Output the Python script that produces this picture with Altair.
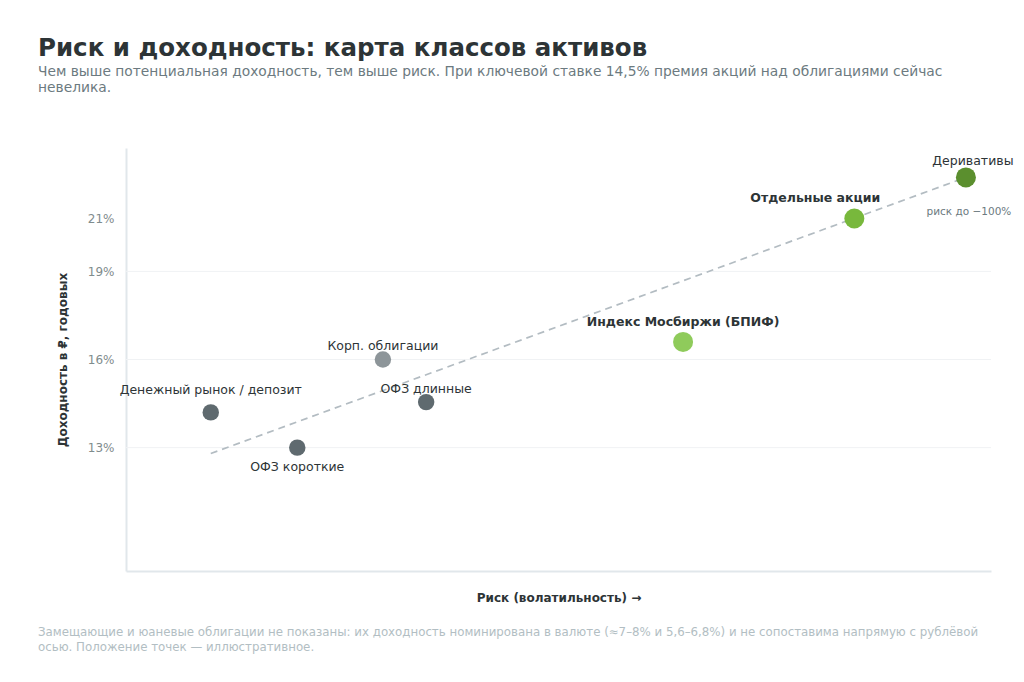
import altair as alt
import pandas as pd

# Asset classes: risk (arbitrary volatility scale) vs expected rouble yield, % p.a.
assets = [
    "Денежный рынок / депозит",
    "ОФЗ короткие",
    "Корп. облигации",
    "ОФЗ длинные",
    "Индекс Мосбиржи (БПИФ)",
    "Отдельные акции",
    "Деривативы",
]
risk = [0.98, 1.98, 2.97, 3.47, 6.44, 8.42, 9.71]
yield_pct = [14.2, 13.0, 16.0, 14.55, 16.6, 20.8, 22.2]
kind = ["долг", "долг", "долг", "долг", "акции", "акции", "акции"]

# Risk/return trend line
trend_risk = [0.98, 9.71]
trend_yield = [12.8, 22.2]

# Y-axis ticks and grid lines
y_ticks = [13, 16, 19, 20.8]
grid_vals = [13, 16, 19]

point_colors = ["#5f6a6f", "#5f6a6f", "#8d9599", "#5f6a6f", "#8fcb5b", "#78b83c", "#5b8f2e"]

FONT = "DejaVu Sans"
DARK = "#2d3436"

df = pd.DataFrame({"asset": assets, "risk": risk, "yield": yield_pct, "kind": kind})
trend = pd.DataFrame({"risk": trend_risk, "yield": trend_yield})
grid = pd.DataFrame({"yield": grid_vals})

x_scale = alt.Scale(domain=[0, 10], nice=False, zero=False)
y_scale = alt.Scale(domain=[8.8, 23.2], nice=False, zero=False)

x_enc = alt.X(
    "risk:Q",
    scale=x_scale,
    axis=alt.Axis(
        title="Риск (волатильность) →",
        labels=False,
        ticks=False,
        grid=False,
        domainColor="#e1e7eb",
        domainWidth=2,
        titleFont=FONT,
        titleFontSize=12,
        titleFontWeight="bold",
        titleColor=DARK,
        titlePadding=21,
    ),
)
y_enc = alt.Y(
    "yield:Q",
    scale=y_scale,
    axis=alt.Axis(
        title="Доходность в ₽, годовых",
        values=y_ticks,
        labelExpr="round(datum.value) + '%'",
        ticks=False,
        grid=False,
        domainColor="#e1e7eb",
        domainWidth=2,
        labelFont=FONT,
        labelFontSize=12,
        labelColor="#7f8c8d",
        labelPadding=12,
        titleFont=FONT,
        titleFontSize=12,
        titleFontWeight="bold",
        titleColor=DARK,
        titlePadding=18,
    ),
)

gridlines = alt.Chart(grid).mark_rule(color="#f0f2f4", strokeWidth=1).encode(
    y=alt.Y("yield:Q", scale=y_scale)
)

trend_line = alt.Chart(trend).mark_line(
    color="#b3bcc2", strokeDash=[7, 5], strokeWidth=1.7
).encode(x=x_enc, y=y_enc)

points = alt.Chart(df).mark_circle(opacity=1).encode(
    x=alt.X("risk:Q", scale=x_scale),
    y=alt.Y("yield:Q", scale=y_scale),
    color=alt.Color("asset:N", scale=alt.Scale(domain=assets, range=point_colors), legend=None),
    size=alt.Size("kind:N", scale=alt.Scale(domain=["долг", "акции"], range=[270, 400]), legend=None),
)


def label(name, dx, dy, bold=False, align="center"):
    return alt.Chart(df).transform_filter(alt.datum.asset == name).mark_text(
        font=FONT,
        fontSize=12.5,
        fontWeight="bold" if bold else "normal",
        color=DARK,
        dx=dx,
        dy=dy,
        align=align,
        baseline="middle",
    ).encode(
        x=alt.X("risk:Q", scale=x_scale),
        y=alt.Y("yield:Q", scale=y_scale),
        text="asset:N",
    )


labels = [
    label("Денежный рынок / депозит", 0, -22),
    label("ОФЗ короткие", 0, 19),
    label("Корп. облигации", 0, -14),
    label("ОФЗ длинные", 0, -13),
    label("Индекс Мосбиржи (БПИФ)", 0, -20, bold=True),
    label("Отдельные акции", -39, -21, bold=True),
    label("Деривативы", 7, -16),
]

risk_note = alt.Chart(df).transform_filter(alt.datum.asset == "Деривативы").mark_text(
    text="риск до −100%", font=FONT, fontSize=10.5, color="#6c7a80", dx=3, dy=35,
    align="center", baseline="middle",
).encode(x=alt.X("risk:Q", scale=x_scale), y=alt.Y("yield:Q", scale=y_scale))

anchor = pd.DataFrame({"k": [0]})

title = alt.Chart(anchor).mark_text(
    text="Риск и доходность: карта классов активов",
    font=FONT, fontSize=24.5, fontWeight="bold", color=DARK, align="left", baseline="alphabetic",
).encode(x=alt.value(-88), y=alt.value(-92))

subtitle = alt.Chart(anchor).mark_text(
    text=[
        "Чем выше потенциальная доходность, тем выше риск. При ключевой ставке 14,5% премия акций над облигациями сейчас",
        "невелика.",
    ],
    font=FONT, fontSize=13.8, color="#6c7a80", align="left", baseline="alphabetic", lineHeight=16,
).encode(x=alt.value(-88), y=alt.value(-72))

footer = alt.Chart(anchor).mark_text(
    text=[
        "Замещающие и юаневые облигации не показаны: их доходность номинирована в валюте (≈7–8% и 5,6–6,8%) и не сопоставима напрямую с рублёвой",
        "осью. Положение точек — иллюстративное.",
    ],
    font=FONT, fontSize=11.8, color="#b2bec3", align="left", baseline="alphabetic", lineHeight=15,
).encode(x=alt.value(-88), y=alt.value(488))

chart = alt.layer(
    gridlines, trend_line, points, *labels, risk_note, title, subtitle, footer
).properties(
    width=865,
    height=423,
    padding={"left": 126, "top": 148, "right": 33, "bottom": 111},
    autosize=alt.AutoSizeParams(type="none"),
    background="white",
).configure_view(stroke=None)

chart.save("out.html", embed_options={"renderer": "svg", "actions": False})
